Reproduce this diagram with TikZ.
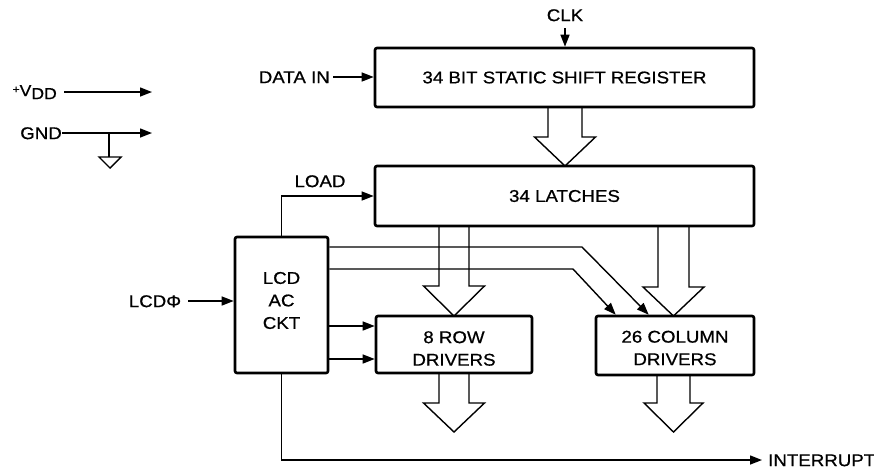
\documentclass[tikz,border=0pt]{standalone}
\usepackage{fontspec}
\newfontfamily\hv[FakeStretch=1.1,FakeBold=0.7]{Liberation Sans}
\usetikzlibrary{arrows.meta,calc}
\newcommand\fatarr[6]{%
  \draw[fat] (#1-#5,#2) -- (#1-#5,#3) -- (#1-#6,#3) -- (#1,#4) -- (#1+#6,#3) -- (#1+#5,#3) -- (#1+#5,#2);}
\begin{document}
\begin{tikzpicture}[x=1pt,y=-1pt,
  lbl/.style={font=\hv\fontsize{17}{20}\selectfont, inner sep=0pt, text height=12.2pt, text depth=0pt},
  blk/.style={draw, line width=2.6pt, rounded corners=2pt, inner sep=0pt},
  btxt/.style={font=\hv\fontsize{17}{22.5}\selectfont, align=center, inner sep=0pt},
  wire/.style={line width=1.4pt},
  arr/.style={wire, -{Triangle[length=12pt,width=9pt]}},
  fat/.style={line width=1.4pt, line join=miter}]
\useasboundingbox (0,0) rectangle (874,475);

% blocks
\node[blk, minimum width=379pt, minimum height=59pt] (sr) at (564.5,77.5) {};
\node[btxt] (srt) at (564.5,77.5) {34 BIT STATIC SHIFT REGISTER};
\node[blk, minimum width=379pt, minimum height=60pt] (lat) at (564.5,196) {};
\node[btxt] (latt) at (564.5,196) {34 LATCHES};
\node[blk, minimum width=93pt, minimum height=136pt] (lcd) at (281.5,305) {};
\node[btxt] (lcdt) at (281.5,300.5) {LCD\\AC\\CKT};
\node[blk, minimum width=156pt, minimum height=57pt] (row) at (454,344.5) {};
\node[btxt] (rowt) at (454,348.5) {8 ROW\\DRIVERS};
\node[blk, minimum width=158pt, minimum height=59pt] (col) at (675,345.5) {};
\node[btxt] (colt) at (675,348) {26 COLUMN\\DRIVERS};

% labels
\node[lbl] (clk) at (565,15) {CLK};
\node[lbl, anchor=east] (din) at (330,77) {DATA IN};
\node[lbl] (load) at (320,181) {LOAD};
\node[lbl] (phi) at (155,301) {LCDΦ};
\node[lbl, anchor=west] (int) at (768,460) {INTERRUPT};
\node[lbl, anchor=east, font=\hv\fontsize{16}{20}\selectfont] (vdd) at (57,90) {\raisebox{3pt}{\fontsize{11}{12}\selectfont +}V\raisebox{-3pt}{DD}};
\node[lbl, anchor=east] (gnd) at (62,133) {GND};
\coordinate (vddend) at (152,92);
\coordinate (gndend) at (152,133);
\coordinate (gj) at (109,133);
\coordinate (gb) at (109,157);

% connectors
\draw[arr] ($(clk.south)+(0,7)$) -- (clk.south |- sr.north);
\draw[arr] ($(din.east)+(3,0)$) -- (din.east -| sr.west);
\draw[arr] (lcd.north) |- (lat.west);
\draw[arr] ($(phi.east)+(7,0)$) -- (phi.east -| lcd.west);
\draw[arr] (lcd.east |- 0,326) -- (row.west |- 0,326);
\draw[arr] (lcd.east |- 0,359) -- (row.west |- 0,359);
\draw[arr] (lcd.east |- 0,247) -- (582,247) -- ($(col.north west)+(54,0)$);
\draw[arr] (lcd.east |- 0,269) -- (573,269) -- ($(col.north west)+(21,0)$);
\draw[arr] (lcd.south) |- ($(int.west)+(-6,0)$);
\draw[arr] (64,92) -- (vddend);
\draw[arr] (gnd.east) -- (gndend);
\draw[wire] (gj) -- (gb);
\draw[wire, line join=miter] (99,157) -- (121,157) -- (110,168) -- cycle;

% wide bus arrows
\fatarr{565}{107}{137}{166}{17}{30.5}
\fatarr{454}{226}{286}{316}{15}{30.5}
\fatarr{673.5}{226}{287}{316}{15.5}{30.5}
\fatarr{454}{373}{403}{432}{15}{30.5}
\fatarr{673.5}{375}{403}{432}{16.5}{29.5}
\end{tikzpicture}
\end{document}
